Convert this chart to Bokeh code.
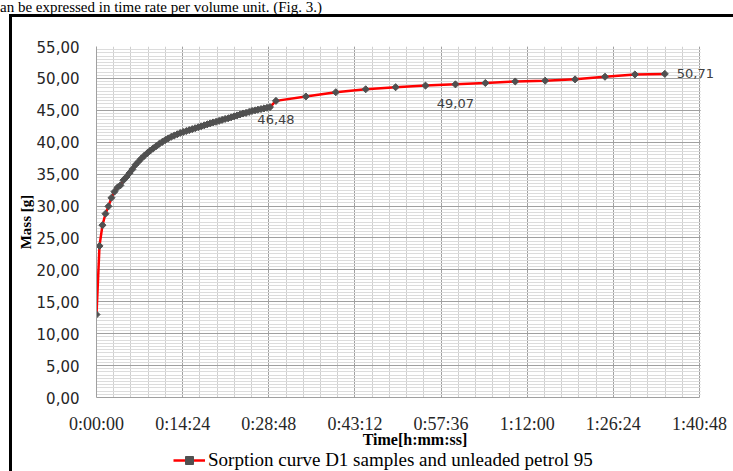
import numpy as np
from bokeh.plotting import figure
from bokeh.layouts import column
from bokeh.models import (FixedTicker, Legend, LegendItem, ColumnDataSource,
                          InlineStyleSheet, Div, BoxAnnotation)
from bokeh.core.properties import value
from bokeh.embed import file_html
from bokeh.resources import INLINE

# ---------------- data ----------------
time_s = [0, 30, 60, 90, 120, 150, 180, 210, 240, 270,
          300, 330, 360, 390, 420, 450, 480, 510, 540, 570,
          600, 630, 660, 690, 720, 750, 780, 810, 840, 870,
          900, 930, 960, 990, 1020, 1050, 1080, 1110, 1140, 1170,
          1200, 1230, 1260, 1290, 1320, 1350, 1380, 1410, 1440, 1470,
          1500, 1530, 1560, 1590, 1620, 1650, 1680, 1710, 1740,
          1800, 2100, 2400, 2700, 3000, 3300, 3600, 3900, 4200, 4500,
          4800, 5100, 5400, 5700]
mass_g = [13.00, 23.75, 27.00, 28.80, 29.95, 31.30, 32.25, 32.90, 33.25, 34.05,
          34.55, 35.15, 35.75, 36.45, 36.95, 37.45, 37.90, 38.30, 38.70, 39.05,
          39.40, 39.75, 40.05, 40.35, 40.60, 40.85, 41.05, 41.25, 41.45, 41.60,
          41.75, 41.90, 42.05, 42.20, 42.35, 42.50, 42.65, 42.80, 42.95, 43.10,
          43.20, 43.35, 43.50, 43.65, 43.75, 43.90, 44.05, 44.20, 44.35, 44.50,
          44.60, 44.75, 44.90, 45.00, 45.10, 45.20, 45.30, 45.40, 45.50,
          46.48, 47.17, 47.84, 48.30, 48.62, 48.87, 49.07, 49.28, 49.52, 49.64,
          49.85, 50.26, 50.62, 50.71]
labeled_times = [1800, 3600, 5700]
label_places = ["below", "below", "right"]

x_ticks = [0, 864, 1728, 2592, 3456, 4320, 5184, 6048]
x_tick_labels = ["0:00:00", "0:14:24", "0:28:48", "0:43:12", "0:57:36",
                 "1:12:00", "1:26:24", "1:40:48"]
y_ticks = [0, 5, 10, 15, 20, 25, 30, 35, 40, 45, 50, 55]
y_tick_labels = ["0,00", "5,00", "10,00", "15,00", "20,00", "25,00", "30,00",
                 "35,00", "40,00", "45,00", "50,00", "55,00"]

series_name = "Sorption curve D1 samples and unleaded petrol 95"
x_title = "Time[h:mm:ss]"
y_title = "Mass [g]"
page_text = "an be expressed in time rate per volume unit. (Fig. 3.)"

# ---------------- page text above the chart box ----------------
top_div = Div(text=page_text, width=733, height=14, margin=0,
              styles={"font-family": "'Liberation Serif', serif",
                      "font-size": "15px", "line-height": "14px",
                      "color": "#000", "white-space": "nowrap",
                      "overflow": "hidden"})

# left and top edges of the pasted chart box, drawn behind the canvases
box_css = InlineStyleSheet(css=""":host {
  background:
    linear-gradient(#000, #000) 9px 0px / 3px 600px no-repeat,
    linear-gradient(#000, #000) 9px 0px / 800px 3px no-repeat,
    #fff;
}""")
side_css = InlineStyleSheet(css=""":host {
  background: linear-gradient(#000, #000) 9px 0px / 3px 600px no-repeat, #fff;
}""")

# ---------------- main chart ----------------
# plot area spans 96..699 px for the axis; the frame runs on to the canvas edge
# so that the last data label is not clipped
FRAME_L, AXIS_R, CANVAS_W = 96, 699, 733
x_end = x_ticks[-1] * (CANVAS_W - FRAME_L) / (AXIS_R - FRAME_L)

p = figure(width=CANVAS_W, height=436, x_range=(x_ticks[0], x_end),
           y_range=(y_ticks[0], y_ticks[-1]),
           output_backend="svg", toolbar_location=None,
           min_border_left=FRAME_L, min_border_right=0, min_border_top=32,
           min_border_bottom=48, outline_line_color=None,
           background_fill_color="white", border_fill_alpha=0,
           margin=0, stylesheets=[box_css])

x_minor = list(np.arange(x_ticks[0], x_ticks[-1] + 1, (x_ticks[1] - x_ticks[0]) / 5))
y_minor = list(np.arange(y_ticks[0], y_ticks[-1] + 0.01, 0.5))
p.xaxis.ticker = FixedTicker(ticks=x_ticks, minor_ticks=x_minor)
p.yaxis.ticker = FixedTicker(ticks=y_ticks, minor_ticks=y_minor)
p.xaxis.major_label_overrides = dict(zip(x_ticks, x_tick_labels))
p.yaxis.major_label_overrides = dict(zip(y_ticks, y_tick_labels))
p.xaxis.bounds = (x_ticks[0], x_ticks[-1])

for ax in (p.xaxis, p.yaxis):
    ax.major_tick_line_color = None
    ax.minor_tick_line_color = None
    ax.major_tick_out = 0
    ax.minor_tick_out = 0
    ax.major_tick_in = 0
    ax.minor_tick_in = 0
    ax.axis_line_color = "#A0A0A0"
    ax.axis_label_text_font_style = "bold"
    ax.axis_label_text_color = "#000000"
    ax.axis_label_standoff = 0

p.xaxis.major_label_text_font = "Liberation Serif"
p.xaxis.major_label_text_font_size = "18px"
p.xaxis.major_label_text_color = "#262626"
p.xaxis.major_label_standoff = 16
p.xaxis.axis_label = x_title
p.xaxis.axis_label_text_font = "Liberation Serif"
p.xaxis.axis_label_text_font_size = "16px"
p.xaxis.axis_label_standoff = -6

p.yaxis.major_label_text_font = "DejaVu Sans"
p.yaxis.major_label_text_font_size = "15px"
p.yaxis.major_label_text_color = "#262626"
p.yaxis.major_label_standoff = 17
p.yaxis.axis_label = y_title
p.yaxis.axis_label_text_font = "Liberation Serif"
p.yaxis.axis_label_text_font_size = "15px"

p.xgrid.grid_line_color = "#A0A0A0"
p.xgrid.minor_grid_line_color = "#CFCFCF"
p.ygrid.grid_line_color = "#A0A0A0"
p.ygrid.minor_grid_line_color = "#DCDCDC"

# white margin right of the last time tick (hides the grid there)
p.add_layout(BoxAnnotation(left=x_ticks[-1] + 12, fill_color="white", fill_alpha=1,
                           line_alpha=0, level="underlay"))

line_style = dict(line_color="#FF0000", line_width=2.5)
marker_style = dict(marker="square", angle=np.pi / 4, size=5,
                    fill_color="#505050", line_color="#505050")

p.line(time_s, mass_g, **line_style)
p.scatter(time_s, mass_g, **marker_style)

# data labels
lbl_idx = [time_s.index(t) for t in labeled_times]
lbl_src = ColumnDataSource(dict(
    x=[time_s[i] for i in lbl_idx],
    y=[mass_g[i] for i in lbl_idx],
    text=[f"{mass_g[i]:.2f}".replace(".", ",") for i in lbl_idx],
    xo=[12 if pl == "right" else 0 for pl in label_places],
    yo=[19 if pl == "below" else 0 for pl in label_places],
    align=["left" if pl == "right" else "center" for pl in label_places],
))
p.text(x="x", y="y", text="text", x_offset="xo", y_offset="yo",
       text_align="align", text_baseline="middle", source=lbl_src,
       text_font=value("DejaVu Sans"), text_font_size="13px",
       text_color="#404040")

# ---------------- legend strip below the chart ----------------
lf = figure(width=CANVAS_W, height=21, x_range=(0, 1), y_range=(0, 1),
            output_backend="svg", toolbar_location=None,
            x_axis_type=None, y_axis_type=None, min_border=0,
            outline_line_color=None, background_fill_alpha=0,
            border_fill_alpha=0, margin=0, stylesheets=[side_css])
lf.grid.visible = False
# the series itself (outside this strip's ranges, so only the legend key shows)
key_line = lf.line(time_s, mass_g, **line_style)
key_mark = lf.scatter(time_s, mass_g, **marker_style)
legend = Legend(items=[LegendItem(label=series_name, renderers=[key_line, key_mark])],
                location=(77, 0), orientation="horizontal",
                label_text_font="Liberation Serif", label_text_font_size="19px",
                label_text_color="#000000", glyph_width=32, glyph_height=20,
                label_height=20, label_standoff=3, padding=0, margin=0,
                border_line_color=None, background_fill_alpha=0)
lf.add_layout(legend, "center")

layout = column(top_div, p, lf, spacing=0, margin=0)
open("out.html", "w").write(file_html(layout, INLINE))
